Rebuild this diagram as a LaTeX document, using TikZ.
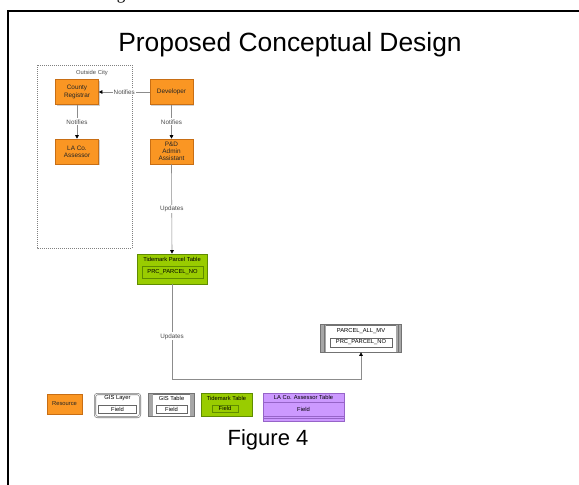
\documentclass[tikz,border=0pt]{standalone}
\usepackage{fontspec}
\setmainfont{Liberation Sans}
\newfontfamily\seriffont{Liberation Serif}
\usetikzlibrary{arrows.meta,shadows,positioning}
\definecolor{resfill}{RGB}{250,150,35}
\definecolor{resdraw}{RGB}{200,110,20}
\definecolor{tmfill}{RGB}{153,204,0}
\definecolor{tmdraw}{RGB}{95,140,0}
\definecolor{lafill}{RGB}{204,153,255}
\definecolor{ladraw}{RGB}{150,100,200}
\definecolor{lnc}{RGB}{140,140,140}
\tikzset{
  tiny/.style={font=\fontsize{5.8}{6.6}\selectfont, align=center, inner sep=0.5pt},
  boxtxt/.style={font=\fontsize{6.4}{7.2}\selectfont, align=center, inner sep=0.5pt},
  resbox/.style={draw=resdraw, fill=resfill, line width=0.6pt, minimum width=43pt, minimum height=25pt,
     boxtxt, text=black!85, drop shadow={shadow xshift=1.2pt, shadow yshift=-1.2pt, fill=black!35}},
  conn/.style={draw=lnc, line width=0.6pt},
  tip/.style={-{Triangle[length=3.5pt,width=3.5pt,color=black]}},
  lbl/.style={font=\fontsize{6.3}{7}\selectfont, fill=white, text=black!70, inner sep=1pt},
  tmbox/.style={draw=tmdraw, fill=tmfill, line width=0.6pt},
  tmin/.style={draw=tmdraw, fill=tmfill, line width=0.5pt, tiny},
  gisbox/.style={draw=black!55, fill=white, line width=0.6pt},
  gisin/.style={draw=black!60, fill=white, line width=0.5pt, tiny},
}
\begin{document}
\begin{tikzpicture}[x=1pt,y=-1pt]
\useasboundingbox (0,0) rectangle (579,485);
\clip (0,0) rectangle (579,485);
\fill[white] (0,0) rectangle (579,485);
% page fragment above the frame
\node[font=\seriffont\fontsize{17}{17}\selectfont, anchor=base, inner sep=0pt] (frag) at (121,-1) {g};
% frame
\draw[line width=1.3pt] (8,500) -- (8,11) -- (600,11);
% title
\node[font=\fontsize{26.4}{28}\selectfont, anchor=base, inner sep=0pt] (title) at (290,51) {Proposed Conceptual Design};
% outside city
\draw[black!50, line width=0.6pt, dash pattern=on 1pt off 1pt] (37,65) rectangle (132,248);
\node[tiny, text=black!70] (oc) at (92,73) {Outside City};
% resources
\node[resbox] (reg) at (77,92) {County\\Registrar};
\node[resbox] (ass) at (77,151.5) {LA Co.\\Assessor};
\node[resbox] (dev) at (171.5,92) {Developer};
\node[resbox] (pd) at (171.5,151.5) {P\&D\\Admin\\Assistant};
% tidemark parcel table
\node[tmbox, minimum width=70pt, minimum height=30pt, drop shadow={shadow xshift=1pt, shadow yshift=-1pt, fill=black!30}] (tpt) at (172,269) {};
\node[tiny] (tptt) at (172,259.5) {Tidemark Parcel Table};
\node[tmin, minimum width=61pt, minimum height=12pt] (tpti) at (172.5,272) {PRC\_PARCEL\_NO};
% PARCEL_ALL_MV
\node[gisbox, minimum width=80pt, minimum height=27pt] (pam) at (361,338.5) {};
\fill[black!35] (pam.north west) rectangle ([xshift=5pt]pam.south west);
\fill[black!35] (pam.north east) rectangle ([xshift=-5pt]pam.south east);
\draw[black!55, line width=0.4pt] ([xshift=3pt]pam.north west) -- ([xshift=3pt]pam.south west)
   ([xshift=-3pt]pam.north east) -- ([xshift=-3pt]pam.south east);
\draw[black!55, line width=0.6pt] (pam.north west) rectangle (pam.south east);
\node[tiny] (pamt) at (361,331) {PARCEL\_ALL\_MV};
\node[gisin, minimum width=62pt, minimum height=9pt] (pami) at (361,342.5) {PRC\_PARCEL\_NO};
% connectors
\draw[conn, tip] (dev.west) -- node[lbl] {Notifies} (reg.east);
\draw[conn, tip] (reg.south) -- node[lbl] {Notifies} (ass.north);
\draw[conn, tip] (dev.south) -- node[lbl] {Notifies} (pd.north);
\draw[conn, tip] (pd.south) -- node[lbl] {Updates} (tpt.north);
\coordinate (bend) at (172,379);
\draw[conn, tip] (tpt.south) -- node[lbl, pos=0.55] {Updates} (bend) -| (pam.south);
% legend
\node[resbox, minimum width=35pt, minimum height=20pt, font=\fontsize{5.8}{6.6}\selectfont] (lres) at (64.5,404) {Resource};
\node[gisbox, rounded corners=2.5pt, minimum width=45pt, minimum height=23pt, double=white, double distance=0.8pt] (lgl) at (117.5,405.5) {};
\node[tiny] (lglt) at (117.5,398.5) {GIS Layer};
\node[gisin, minimum width=38pt, minimum height=8pt] (lgli) at (117.5,409) {Field};
\node[gisbox, minimum width=45pt, minimum height=22pt] (lgt) at (171.5,405) {};
\fill[black!35] (lgt.north west) rectangle ([xshift=4pt]lgt.south west);
\fill[black!35] (lgt.north east) rectangle ([xshift=-4pt]lgt.south east);
\draw[black!55, line width=0.6pt] (lgt.north west) rectangle (lgt.south east);
\node[tiny] (lgtt) at (171.5,398.5) {GIS Table};
\node[gisin, minimum width=31pt, minimum height=8pt] (lgti) at (171.5,409) {Field};
\node[tmbox, minimum width=51pt, minimum height=23pt] (ltm) at (226.5,404.5) {};
\node[tiny] (ltmt) at (226.5,398) {Tidemark Table};
\node[tmin, minimum width=26pt, minimum height=7pt] (ltmi) at (225,408.5) {Field};
\node[draw=ladraw, fill=lafill, line width=0.6pt, minimum width=81pt, minimum height=28pt] (lla) at (303.5,407) {};
\draw[ladraw, line width=0.5pt] (263,402) -- (344,402) (263,416) -- (344,416) (263,418.5) -- (344,418.5);
\node[tiny] (llat) at (303.5,397.5) {LA Co. Assessor Table};
\node[tiny] (llaf) at (303.5,409) {Field};
% caption
\node[font=\fontsize{22}{24}\selectfont, anchor=base, inner sep=0pt] (cap) at (268,445) {Figure 4};
\end{tikzpicture}
\end{document}
